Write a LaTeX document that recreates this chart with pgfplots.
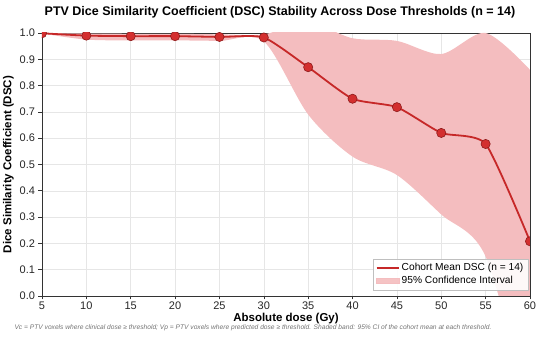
\documentclass[border=0pt]{standalone}
\usepackage{fontspec}
\setmainfont{Liberation Sans}
\usepackage{pgfplots}
\pgfplotsset{compat=1.18}
\usepgfplotslibrary{fillbetween}
\definecolor{meanred}{HTML}{C62828}
\definecolor{markred}{HTML}{D32F2F}
\definecolor{markedge}{HTML}{8E1B1B}
\definecolor{bandred}{HTML}{F4BDBF}
\definecolor{axgray}{HTML}{333333}
\definecolor{gridgray}{HTML}{E6E6E6}
\begin{document}
\begin{tikzpicture}
\begin{axis}[
  at={(0pt,0pt)}, anchor=south west,
  scale only axis, width=488pt, height=263pt,
  xmin=5, xmax=60, ymin=0, ymax=1,
  xtick={5,10,...,60},
  ytick={0,0.1,...,1.0},
  yticklabel style={/pgf/number format/fixed,/pgf/number format/fixed zerofill,/pgf/number format/precision=1},
  /pgf/number format/assume math mode=true,
  ticklabel style={font=\fontsize{11}{13}\selectfont, text=black!85},
  xticklabel style={yshift=1pt},
  tick align=outside, tick pos=left,
  major tick length=3.5pt,
  every tick/.style={axgray, line width=0.6pt},
  axis line style={axgray, line width=0.9pt},
  grid=major, major grid style={gridgray, line width=0.5pt},
  xlabel={\bfseries Absolute dose (Gy)},
  ylabel={\bfseries Dice Similarity Coefficient (DSC)},
  label style={font=\fontsize{11.5}{13}\selectfont},
  xlabel style={yshift=4pt},
  ylabel style={yshift=-1pt},
  clip marker paths=true,
  legend style={at={(0.996,0.023)}, anchor=south east, draw=black!25, fill=white, fill opacity=0.9, text opacity=1, font=\fontsize{10.2}{12}\selectfont, row sep=0pt, inner sep=2.5pt},
  legend cell align=left,
]
\addplot[name path=upper, draw=none, smooth, forget plot] coordinates {
 (5,1.0) (10,0.998) (15,0.997) (20,0.997) (25,0.995) (30,0.995) (35,1.04) (40,0.98) (45,0.97) (50,0.92) (55,1.0) (60,0.86)};
\addplot[name path=lower, draw=none, smooth, forget plot] coordinates {
 (5,0.998) (10,0.975) (15,0.972) (20,0.972) (25,0.970) (30,0.968) (35,0.69) (40,0.53) (45,0.46) (50,0.31) (55,0.15) (60,-0.45)};
\addplot[fill=bandred, draw=none, forget plot] fill between[of=upper and lower];
\addplot[meanred, line width=1.8pt, smooth, tension=0.35, mark=*, mark size=4.6pt,
  mark options={fill=markred, draw=markedge, line width=0.6pt}, forget plot] coordinates {
 (5,0.999) (10,0.990) (15,0.988) (20,0.988) (25,0.985) (30,0.983) (35,0.870) (40,0.750) (45,0.718) (50,0.620) (55,0.578) (60,0.208)};
\addlegendimage{line legend, meanred, line width=1.8pt, xscale=1.3}
\addlegendentry{Cohort Mean DSC (n = 14)}
\addlegendimage{area legend, fill=bandred, draw=bandred, xscale=1.3}
\addlegendentry{95\% Confidence Interval}
\end{axis}
\node[font=\fontsize{12.5}{14}\selectfont\bfseries] at (238pt,284pt) {PTV Dice Similarity Coefficient (DSC) Stability Across Dose Thresholds (n = 14)};
\node[font=\fontsize{6.65}{8}\selectfont\itshape, text=black!55] at (211pt,-32pt) {Vc = PTV voxels where clinical dose ≥ threshold; Vp = PTV voxels where predicted dose ≥ threshold. Shaded band: 95\% CI of the cohort mean at each threshold.};
\pgfresetboundingbox
\path[use as bounding box] (-42pt,-41pt) rectangle (508pt,296pt);
\end{tikzpicture}
\end{document}
